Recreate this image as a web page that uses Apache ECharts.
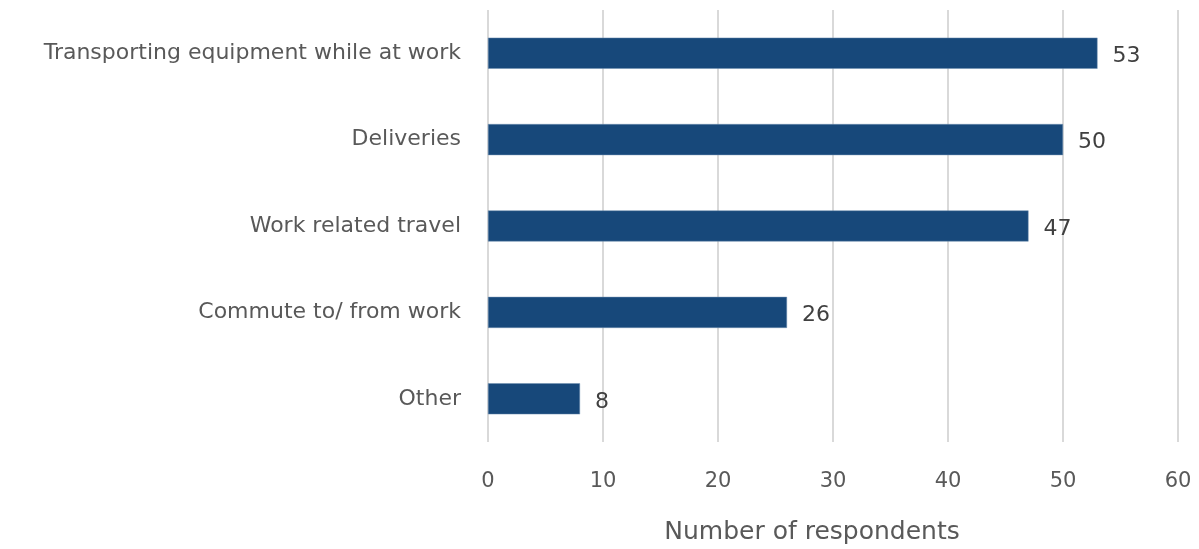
<!DOCTYPE html>
<html><head><meta charset="utf-8">
<script src="https://cdn.jsdelivr.net/npm/echarts@6/dist/echarts.min.js"></script>
<style>html,body{margin:0;padding:0;background:#fff}#c{width:1199px;height:549px}</style>
</head><body><div id="c"></div>
<script>
const categories = ["Transporting equipment while at work","Deliveries","Work related travel","Commute to/ from work","Other"];
const values = [53, 50, 47, 26, 8];
const xTicks = [0, 10, 20, 30, 40, 50, 60];
const axisTitle = "Number of respondents";

const font = "'DejaVu Sans', sans-serif";
const chart = echarts.init(document.getElementById('c'), null, {renderer:'canvas'});
chart.setOption({
  animation:false,
  grid:{left:488, right:21, top:10, bottom:107, containLabel:false},
  xAxis:{
    type:'value', min:xTicks[0], max:xTicks[xTicks.length-1], interval:10,
    axisLine:{show:false}, axisTick:{show:false},
    axisLabel:{color:'#595959', fontSize:21, fontFamily:font, margin:29},
    splitLine:{lineStyle:{color:'#d9d9d9', width:2}}
  },
  yAxis:{
    type:'category', data:categories, inverse:true,
    axisLine:{show:false}, axisTick:{show:false},
    axisLabel:{color:'#595959', fontSize:22, fontFamily:font, margin:27}
  },
  graphic:[{
    type:'text', x:812, y:532,
    style:{text:axisTitle, fill:'#595959', font:"25px 'DejaVu Sans', sans-serif", textAlign:'center', textVerticalAlign:'middle'}
  }],
  series:[{
    type:'bar', data:values, barCategoryGap:'64%',
    itemStyle:{color:'#17487a', borderColor:'#6f8fb0', borderWidth:0.5},
    label:{show:true, position:'right', distance:15, color:'#404040', fontSize:22, fontFamily:font, offset:[0,3]}
  }]
});
</script></body></html>
